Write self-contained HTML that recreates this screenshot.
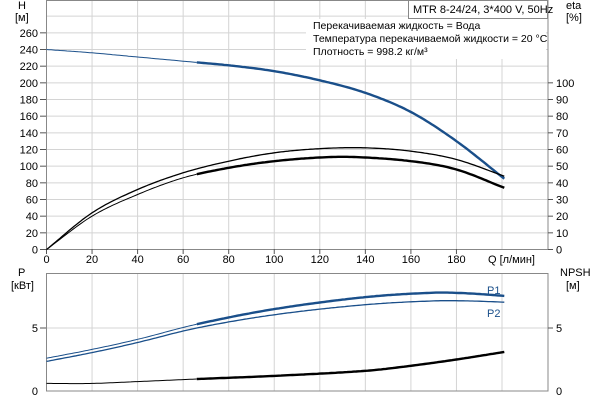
<!DOCTYPE html>
<html><head><meta charset="utf-8"><style>
body{margin:0;background:#fff;width:600px;height:400px;overflow:hidden}
svg{font-family:"Liberation Sans",sans-serif;font-size:11px}
</style></head><body>
<svg id="s" width="600" height="400" xmlns="http://www.w3.org/2000/svg">
<g id="grid" stroke="#d4d4d4" stroke-width="1"></g>
<rect x="46.5" y="0.5" width="501.5" height="249" fill="none" stroke="#888"/>
<rect x="46.5" y="273.5" width="501.5" height="117.5" fill="none" stroke="#888"/>
<rect x="306" y="19" width="240" height="40" fill="#fff"/>
<rect x="408.5" y="0.5" width="139" height="18" fill="#fff" stroke="#888"/>
<text x="413" y="13">MTR 8-24/24, 3*400 V, 50Hz</text>
<text x="313" y="29" font-size="10.5">Перекачиваемая жидкость = Вода</text>
<text x="313" y="42" font-size="10.5">Температура перекачиваемой жидкости = 20 °C</text>
<text x="313" y="55" font-size="10.5">Плотность = 998.2 кг/м³</text>
<text x="18" y="9">H</text><text x="15" y="21">[м]</text>
<text x="566" y="9">eta</text><text x="566" y="21">[%]</text>
<text x="18" y="276">P</text><text x="11" y="289">[кВт]</text>
<text x="560" y="276">NPSH</text><text x="566" y="289">[м]</text>
<text x="488" y="263">Q [л/мин]</text>
<text x="487" y="294" fill="#1a4f8a">P1</text>
<text x="487" y="317" fill="#1a4f8a">P2</text>
<g id="lbl"></g>
<g id="curves" fill="none"></g>
</svg>
<script>
const NS="http://www.w3.org/2000/svg";
const X=q=>46.5+2.2775*q, YH=h=>249.5-h*0.8333, YE=e=>249.5-e*1.6667, YP=p=>391-p*12.6;
const g=document.getElementById('grid'),l=document.getElementById('lbl'),c=document.getElementById('curves');
function ln(p,x1,y1,x2,y2,st){const e=document.createElementNS(NS,'line');e.setAttribute('x1',x1);e.setAttribute('y1',y1);e.setAttribute('x2',x2);e.setAttribute('y2',y2);if(st)e.setAttribute('stroke',st);p.appendChild(e);}
function tx(x,y,t,a){const e=document.createElementNS(NS,'text');e.setAttribute('x',x);e.setAttribute('y',y);if(a)e.setAttribute('text-anchor',a);e.textContent=t;l.appendChild(e);}
for(let q=20;q<=200;q+=20){ln(g,X(q),0,X(q),249);ln(g,X(q),274,X(q),391);}
for(let h=20;h<=280;h+=20)ln(g,47,YH(h),548,YH(h));
ln(g,47,YP(5),548,YP(5));
for(let h=0;h<=260;h+=20){tx(38,YH(h)+4,h,'end');ln(l,40,YH(h),46,YH(h),'#555');}
for(let e=0;e<=100;e+=10){tx(556,YE(e)+4,e);ln(l,548,YE(e),553,YE(e),'#555');}
for(let q=0;q<=180;q+=20){tx(X(q),263,q,'middle');ln(l,X(q),249,X(q),254,'#555');}
tx(38,395,0,'end');tx(38,YP(5)+4,5,'end');tx(556,395,0);tx(556,YP(5)+4,5);
ln(l,40,YP(5),46,YP(5),'#555');ln(l,548,YP(5),553,YP(5),'#555');
function interp(pts,q){for(let i=0;i<pts.length-1;i++){const[a,b]=[pts[i],pts[i+1]];if(q<=b[0]){const p0=pts[Math.max(0,i-1)],p3=pts[Math.min(pts.length-1,i+2)];const t=(q-a[0])/(b[0]-a[0]);const m1=(b[1]-p0[1])/(b[0]-p0[0])*(b[0]-a[0]),m2=(p3[1]-a[1])/(p3[0]-a[0])*(b[0]-a[0]);const t2=t*t,t3=t2*t;return(2*t3-3*t2+1)*a[1]+(t3-2*t2+t)*m1+(-2*t3+3*t2)*b[1]+(t3-t2)*m2;}}return pts[pts.length-1][1];}
function curve(pts,Y,col,from,to,w){let d='';for(let q=from;q<=to+0.01;q+=1){d+=(d?'L':'M')+X(q).toFixed(1)+','+Y(interp(pts,q)).toFixed(1);}const e=document.createElementNS(NS,'path');e.setAttribute('d',d);e.setAttribute('stroke',col);e.setAttribute('stroke-width',w);c.appendChild(e);}
function both(pts,Y,col){curve(pts,Y,col,0,66,1);curve(pts,Y,col,66,201,2.4);}
const H=[[0,240],[20,236],[40,231],[60,226],[80,221],[100,214],[120,203],[140,188],[160,165],[180,130],[201,85]];
const E1=[[0,0],[20,22],[40,36],[60,46],[80,53],[100,58],[120,60.5],[140,61],[160,59],[180,54],[201,44]];
const E2=[[0,0],[20,20],[40,33],[60,43],[80,49],[100,53],[120,55.2],[135,55.5],[160,53],[180,48],[201,37]];
const P1=[[0,2.6],[20,3.3],[40,4.1],[66,5.3],[100,6.5],[140,7.45],[170,7.8],[185,7.75],[201,7.55]];
const P2=[[0,2.35],[20,3.05],[40,3.85],[66,5.0],[100,6.05],[140,6.85],[170,7.15],[185,7.15],[201,7.05]];
const N=[[0,0.6],[20,0.6],[40,0.75],[66,0.95],[100,1.2],[140,1.6],[160,2.0],[180,2.5],[201,3.1]];
both(H,YH,'#1a4f8a');both(E2,YE,'#000');
curve(E1,YE,'#000',0,201,1.3);
both(P1,YP,'#1a4f8a');curve(P2,YP,'#1a4f8a',0,201,1.3);both(N,YP,'#000');
</script>
</body></html>
